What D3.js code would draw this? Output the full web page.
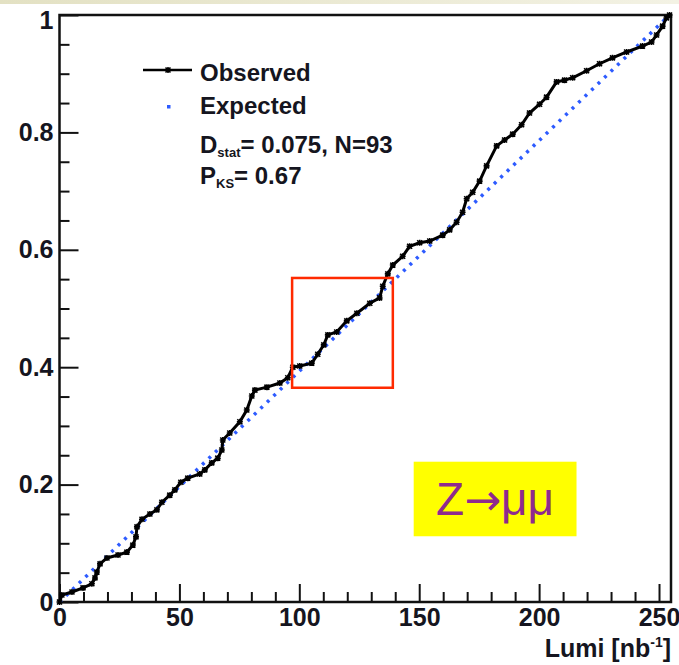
<!DOCTYPE html>
<html>
<head>
<meta charset="utf-8">
<script src="https://cdn.jsdelivr.net/npm/d3@7"></script>
<style>
body { margin: 0; background: #fff; }
text { font-family: "Liberation Sans", Arial, Helvetica, sans-serif; }
</style>
</head>
<body>
<div id="chart"></div>
<script>
// Observed cumulative fraction of events vs integrated luminosity
var obsLumi = [0, 1.0, 5.2, 9.8, 13.5, 14.8, 15.6, 16.9, 19.8, 24.4, 28.1, 30.6, 31.9, 32.3, 34.4,
  37.7, 40.6, 42.7, 46.0, 48.1, 50.6, 53.5, 58.5, 60.6, 63.5, 66.0, 67.7, 68.1, 71.0, 75.2,
  78.1, 80.2, 81.5, 86.5, 91.9, 95.2, 97.3, 100.2, 105.2, 107.7, 110.2, 111.9, 115.6, 119.8, 124.0,
  129.4, 133.5, 134.8, 136.9, 139.0, 143.1, 146.0, 150.2, 154.4, 159.8, 162.7, 165.6, 168.1, 169.8, 172.3,
  175.2, 178.1, 182.3, 185.6, 189.0, 192.7, 196.0, 200.2, 203.1, 207.3, 210.6, 214.0, 219.8, 225.2, 230.6,
  236.5, 243.1, 246.9, 249.0, 251.5, 253.1, 254.4];
var obsFrac = [0, 0.012, 0.017, 0.024, 0.031, 0.041, 0.051, 0.065, 0.075, 0.080, 0.085, 0.097, 0.111, 0.128, 0.141,
  0.150, 0.157, 0.170, 0.182, 0.191, 0.204, 0.211, 0.218, 0.225, 0.237, 0.245, 0.259, 0.276, 0.288, 0.307,
  0.327, 0.351, 0.361, 0.366, 0.373, 0.382, 0.400, 0.402, 0.407, 0.422, 0.438, 0.455, 0.460, 0.479, 0.492,
  0.509, 0.518, 0.538, 0.559, 0.574, 0.589, 0.606, 0.612, 0.615, 0.625, 0.634, 0.647, 0.664, 0.687, 0.698,
  0.717, 0.743, 0.777, 0.787, 0.797, 0.813, 0.833, 0.848, 0.860, 0.886, 0.889, 0.893, 0.905, 0.917, 0.927,
  0.937, 0.947, 0.954, 0.966, 0.981, 0.995, 1.0];

// Expected: uniform in luminosity
var expLumi = [0, 254.4];
var expFrac = [0, 1];

var xMajor = [0, 50, 100, 150, 200, 250];
var xMinor = [10, 20, 30, 40, 60, 70, 80, 90, 110, 120, 130, 140, 160, 170, 180, 190, 210, 220, 230, 240];
var yMajor = [0, 0.2, 0.4, 0.6, 0.8, 1];
var yMinor = [0.05, 0.1, 0.15, 0.25, 0.3, 0.35, 0.45, 0.5, 0.55, 0.65, 0.7, 0.75, 0.85, 0.9, 0.95];

var legendNames = ["Observed", "Expected"];
var dStat = "0.075", nEvents = "93", pKS = "0.67";
var zoomBox = [97, 139, 0.365, 0.552];      // lumi from, lumi to, frac from, frac to
var tagBox = [147.7, 215.6, 0.112, 0.239];

var W = 679, H = 665;
var svg = d3.select("#chart").append("svg").attr("width", W).attr("height", H);

// slide background strip at top
var grad = svg.append("defs").append("linearGradient").attr("id", "strip");
grad.append("stop").attr("offset", "0%").attr("stop-color", "#e3e1c3");
grad.append("stop").attr("offset", "100%").attr("stop-color", "#f3f2e4");
svg.append("rect").attr("x", 0).attr("y", 0).attr("width", W).attr("height", 4).attr("fill", "url(#strip)");

var x = d3.scaleLinear().domain([0, 255]).range([59.5, 671]);
var y = d3.scaleLinear().domain([0, 1]).range([602, 15]);

// axes (ticks pointing into the frame)
svg.append("g").attr("transform", "translate(0,602)")
  .call(d3.axisBottom(x).tickValues(xMajor).tickSize(-18).tickPadding(6).tickFormat(d3.format("d")));
svg.append("g").attr("transform", "translate(0,602)")
  .call(d3.axisBottom(x).tickValues(xMinor).tickSize(-10).tickFormat(""));
var yAx = svg.append("g").attr("transform", "translate(59.5,0)")
  .call(d3.axisLeft(y).tickValues(yMajor).tickSize(-19).tickPadding(6).tickFormat(d3.format("~g")));
svg.append("g").attr("transform", "translate(59.5,0)")
  .call(d3.axisLeft(y).tickValues(yMinor).tickSize(-10).tickFormat(""));

svg.selectAll(".domain").remove();
svg.selectAll(".tick line").attr("stroke", "#111").attr("stroke-width", 2);
svg.selectAll(".tick text").attr("fill", "#151520").attr("font-size", 25).attr("font-weight", "bold")
  .attr("font-family", "'Liberation Sans', Arial, sans-serif");
yAx.selectAll(".tick text").filter(function(d) { return d === 1; }).attr("dy", "0.55em");

// frame
svg.append("rect").attr("x", x(0)).attr("y", y(1)).attr("width", x(255) - x(0)).attr("height", y(0) - y(1))
  .attr("fill", "none").attr("stroke", "#111").attr("stroke-width", 2.5);

// axis title
var xt = svg.append("text").attr("x", 671).attr("y", 657).attr("text-anchor", "end")
  .attr("font-size", 25).attr("font-weight", "bold").attr("fill", "#151520");
xt.append("tspan").text("Lumi [nb");
xt.append("tspan").attr("font-size", 14).attr("dy", -10).text("-1");
xt.append("tspan").attr("dy", 10).text("]");

// expected (dotted blue)
var expPts = expLumi.map(function(d, i) { return [d, expFrac[i]]; });
var line = d3.line().x(function(d) { return x(d[0]); }).y(function(d) { return y(d[1]); });
svg.append("path").datum(expPts).attr("d", line).attr("fill", "none")
  .attr("stroke", "#2d5bff").attr("stroke-width", 3.5).attr("stroke-dasharray", "3 6");

// observed
var obsPts = obsLumi.map(function(d, i) { return [d, obsFrac[i]]; });
svg.append("path").datum(obsPts).attr("d", line).attr("fill", "none")
  .attr("stroke", "#000").attr("stroke-width", 3).attr("stroke-linejoin", "miter");
var star = "M-2.5,-2.5L2.5,2.5M-2.5,2.5L2.5,-2.5M0,-3L0,3M-3,0L3,0";
svg.selectAll(".mk").data(obsPts).enter().append("path").attr("class", "mk")
  .attr("transform", function(d) { return "translate(" + x(d[0]) + "," + y(d[1]) + ")"; })
  .attr("d", star).attr("stroke", "#000").attr("stroke-width", 1.6);

// highlighted region
svg.append("rect").attr("x", x(zoomBox[0])).attr("y", y(zoomBox[3]))
  .attr("width", x(zoomBox[1]) - x(zoomBox[0])).attr("height", y(zoomBox[2]) - y(zoomBox[3]))
  .attr("fill", "none").attr("stroke", "#ff2a00").attr("stroke-width", 2.5);

// channel tag
svg.append("rect").attr("x", x(tagBox[0])).attr("y", y(tagBox[3]))
  .attr("width", x(tagBox[1]) - x(tagBox[0])).attr("height", y(tagBox[2]) - y(tagBox[3]))
  .attr("fill", "#ffff00");
var tg = svg.append("text").attr("x", (x(tagBox[0]) + x(tagBox[1])) / 2).attr("y", 515)
  .attr("text-anchor", "middle").attr("font-size", 46).attr("fill", "#8e2a8e");
tg.append("tspan").text("Z");
tg.append("tspan").attr("font-family", "'DejaVu Sans', sans-serif").attr("font-size", 44).text("\u2192");
tg.append("tspan").text("\u03bc\u03bc");

// legend
var lg = svg.append("g").attr("font-size", 24).attr("font-weight", "bold").attr("fill", "#151520");
lg.append("line").attr("x1", 143).attr("x2", 192).attr("y1", 70).attr("y2", 70)
  .attr("stroke", "#000").attr("stroke-width", 2.5);
lg.append("path").attr("transform", "translate(168,70)").attr("d", star).attr("stroke", "#000").attr("stroke-width", 1.6);
lg.append("text").attr("x", 200).attr("y", 81).text(legendNames[0]);
lg.append("rect").attr("x", 167).attr("y", 105).attr("width", 3.5).attr("height", 3.5).attr("fill", "#2d5bff");
lg.append("text").attr("x", 200).attr("y", 114).text(legendNames[1]);
var t3 = lg.append("text").attr("x", 200).attr("y", 153);
t3.append("tspan").text("D");
t3.append("tspan").attr("font-size", 13).attr("dy", 4).text("stat");
t3.append("tspan").attr("dy", -4).text("= " + dStat + ", N=" + nEvents);
var t4 = lg.append("text").attr("x", 200).attr("y", 184);
t4.append("tspan").text("P");
t4.append("tspan").attr("font-size", 13).attr("dy", 4).text("KS");
t4.append("tspan").attr("dy", -4).text("= " + pKS);
</script>
</body>
</html>
